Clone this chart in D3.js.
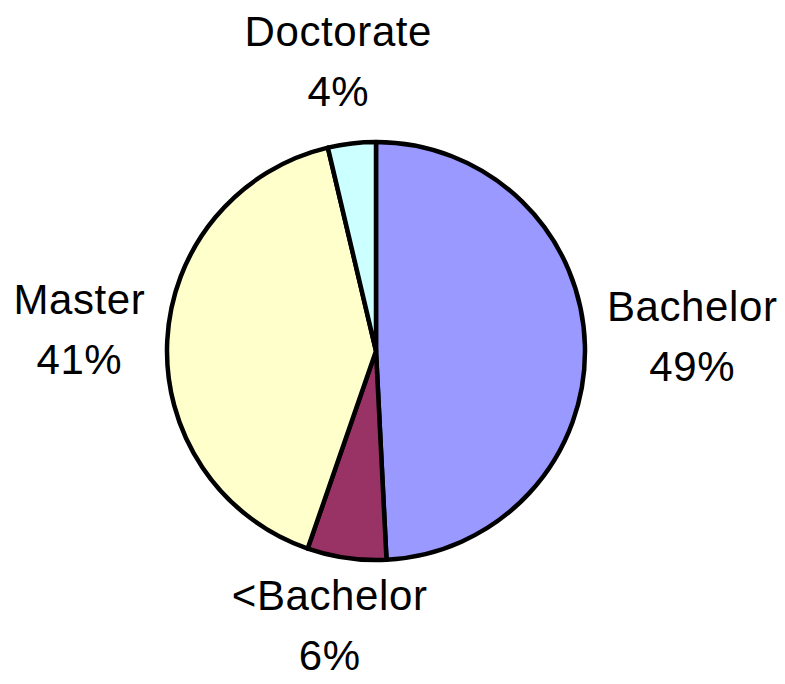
<!DOCTYPE html>
<html>
<head>
<meta charset="utf-8">
<script src="https://cdn.jsdelivr.net/npm/d3@7"></script>
<style>
  body { margin: 0; background: #fff; }
  text { font-family: "Liberation Sans", Arial, sans-serif; }
</style>
</head>
<body>
<svg width="785" height="684"></svg>
<script>
// slices in drawing order, clockwise from 12 o'clock
let categories = ["Bachelor", "<Bachelor", "Master", "Doctorate"];
let values = [49.2, 6.1, 41.0, 3.7];
let percentLabels = ["49%", "6%", "41%", "4%"];
let colors = ["#9999FF", "#993366", "#FFFFCC", "#CCFFFF"];

let width = 785,
  height = 684;
let cx = 376,
  cy = 351,
  radius = 209;
let labelGap = 22;
let labelLift = 7;

let svg = d3.select("svg");

let g = svg.append("g").attr("transform", `translate(${cx}, ${cy})`);

let pie = d3
  .pie()
  .sort(null)
  .value(d => d.value);

let arc = d3
  .arc()
  .innerRadius(0)
  .outerRadius(radius);

let data = categories.map((c, i) => ({
  name: c,
  value: values[i],
  pct: percentLabels[i],
  color: colors[i]
}));

let arcs = pie(data);

g.selectAll("path")
  .data(arcs)
  .enter()
  .append("path")
  .attr("d", arc)
  .style("fill", d => d.data.color)
  .style("stroke", "#000")
  .style("stroke-width", 4.5)
  .style("stroke-linejoin", "round");

// labels sit just outside the rim, box pushed away along the mid angle
let labels = g
  .selectAll("g.label")
  .data(arcs)
  .enter()
  .append("g")
  .classed("label", true);

labels
  .append("text")
  .attr("text-anchor", "middle")
  .style("font-size", "42px")
  .style("letter-spacing", "0.6px")
  .style("fill", "#000")
  .selectAll("tspan")
  .data(d => [d.data.name, d.data.pct])
  .enter()
  .append("tspan")
  .attr("x", 0)
  .attr("y", (d, i) => i * 60)
  .text(d => d);

labels.each(function(d) {
  let box = this.getBBox();
  let a = (d.startAngle + d.endAngle) / 2;
  let r = radius + labelGap;
  let px = Math.sin(a) * r,
    py = -Math.cos(a) * r;
  let bx = px + Math.sin(a) * box.width / 2;
  let by = py - Math.cos(a) * box.height / 2 - labelLift;
  // shift so box centre lands on (bx, by)
  let tx = bx - (box.x + box.width / 2);
  let ty = by - (box.y + box.height / 2);
  d3.select(this).attr("transform", `translate(${tx}, ${ty})`);
});
</script>
</body>
</html>
